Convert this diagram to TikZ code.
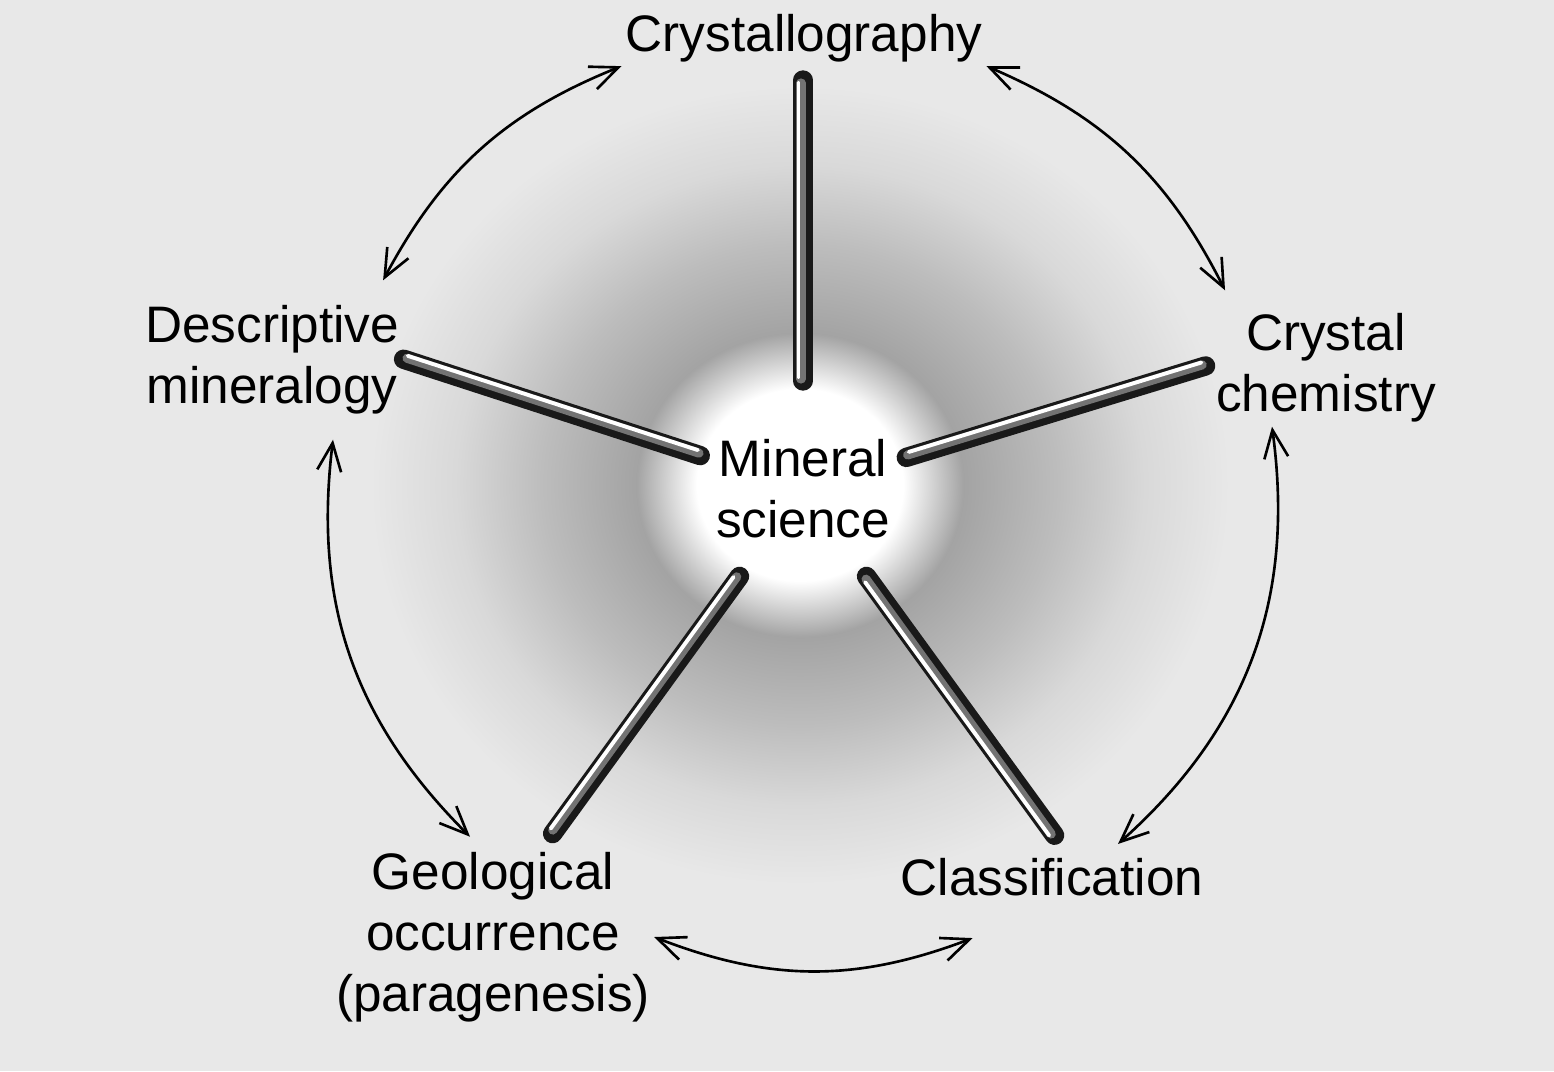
\documentclass[tikz,border=0pt]{standalone}
\usepackage{fontspec}
\setmainfont{Liberation Sans}
\usetikzlibrary{arrows.meta, calc}

\definecolor{paper}{gray}{0.91}
\colorlet{haloring}{black!36}
\colorlet{halomid}{black!26}
\colorlet{haloouter}{black!15}
\pgfdeclareradialshading{halo}{\pgfpoint{0bp}{0bp}}{color(0bp)=(white); color(6bp)=(white); color(9.5bp)=(haloring); color(15bp)=(halomid); color(20bp)=(haloouter); color(25bp)=(paper); color(50bp)=(paper)}

\tikzset{
    topic/.style={align=center, inner sep=1pt, font=\fontsize{14.6}{17.4}\selectfont},
    link/.style={<->, line width=0.75pt},
    rod/.style={line width=5.5pt, line cap=round, black!90},
    rodgrey/.style={line width=2.6pt, line cap=round, black!55},
    rodshine/.style={line width=1.1pt, line cap=round, white}
}

\begin{document}
\begin{tikzpicture}[>={Straight Barb[length=2.8mm,width=2.4mm]}]
        % Define dimensions
        \def\picwidth{15.54}
        \def\picheight{10.71}
        % Paper and the grey halo round the centre
        \useasboundingbox[fill=paper] (0,0) rectangle (\picwidth,-\picheight);
        \shade[shading=halo] (8.0,-4.85) ellipse [x radius=4.3, y radius=4.0];
        % Topics
        \node[topic] (min) at (8.03,-4.89) {Mineral\\science};
        \node[topic] (cryst) at (8.04,-0.38) {Crystallography};
        \node[topic] (desc) at (2.72,-3.60) {Descriptive\\mineralogy};
        \node[topic] (chem) at (13.26,-3.68) {Crystal\\chemistry};
        \node[topic] (geo) at (4.93,-9.37) {Geological\\occurrence\\(paragenesis)};
        \node[topic] (clas) at (10.52,-8.77) {Classification};
        % Spokes (angle / outer radius / side of the shine)
        \foreach \a/\r/\h in {90/4.09/180, 162/4.20/72, 17/4.21/107, 234/4.26/144, 306/4.28/216} {
            \pgfmathsetmacro\rr{\r-0.03}
            \draw[rod] ([shift={(\a:1.08)}]min.center) -- ([shift={(\a:\r)}]min.center);
            \draw[rodgrey] ([shift={(\a:1.1)}, shift={(\h:0.02)}]min.center) -- ([shift={(\a:\rr)}, shift={(\h:0.02)}]min.center);
            \draw[rodshine] ([shift={(\a:1.12)}, shift={(\h:0.045)}]min.center) -- ([shift={(\a:\rr)}, shift={(\h:0.045)}]min.center);
        }
        % Links round the ring
        \draw[link] (cryst.south west) to[bend right=20] ([shift={(-2mm,2.1mm)}]desc.north east);
        \draw[link] (cryst.south east) to[bend left=20] ([shift={(1.3mm,1.9mm)}]chem.north west);
        \draw[link] ([xshift=-5.4mm]chem.south) to[bend left=28] ([shift={(6.6mm,1mm)}]clas.north);
        \draw[link] ([shift={(7.6mm,-3.8mm)}]clas.south west) to[bend left=21] (geo.east);
        \draw[link] ([shift={(-2.3mm,1.1mm)}]geo.north) to[bend left=26] ([shift={(6.1mm,-2.1mm)}]desc.south);
    \end{tikzpicture}
\end{document}
